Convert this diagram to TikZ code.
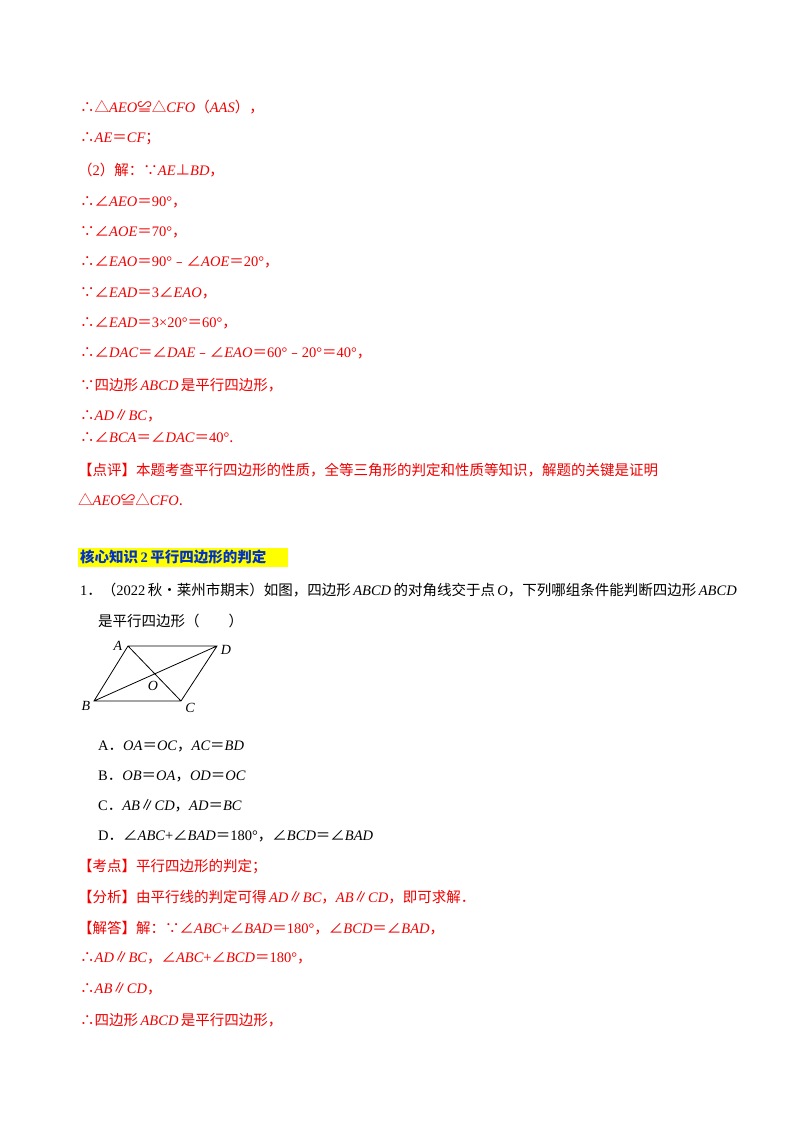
\documentclass[tikz,border=0pt]{standalone}
\usepackage{fontspec}
\setmainfont{Noto Sans CJK SC}
\newfontfamily\lt{Liberation Serif}
\newcommand\mi[1]{{\lt\itshape #1}}
\newcommand\nm[1]{{\lt #1}}
\definecolor{rd}{RGB}{240,0,0}
\definecolor{hl}{RGB}{255,255,0}
\definecolor{bl}{RGB}{0,50,200}
\begin{document}
\begin{tikzpicture}[x=1pt,y=-1pt,
 t/.style={anchor=west,inner sep=0pt,font=\fontsize{14.5}{16}\selectfont},
 r/.style={t,text=rd},
 lb/.style={inner sep=0pt,font=\lt\itshape\fontsize{14}{16}\selectfont}]
\useasboundingbox (0,0) rectangle (800,1132);
\fill[white] (0,0) rectangle (800,1132);
\node[r] (l1) at (80,107) {∴△\mi{AEO}≌△\mi{CFO}（\mi{AAS}），};
\node[r] (l2) at (80,139) {∴\mi{AE}＝\mi{CF}；};
\node[r] (l3) at (78,170) {（\nm{2}）解：∵\mi{AE}⊥\mi{BD}，};
\node[r] (l4) at (80,202) {∴∠\mi{AEO}＝\nm{90°}，};
\node[r] (l5) at (80,232) {∵∠\mi{AOE}＝\nm{70°}，};
\node[r] (l6) at (80,262) {∴∠\mi{EAO}＝\nm{90°}﹣∠\mi{AOE}＝\nm{20°}，};
\node[r] (l7) at (80,293) {∵∠\mi{EAD}＝\nm{3}∠\mi{EAO}，};
\node[r] (l8) at (80,323) {∴∠\mi{EAD}＝\nm{3×20°}＝\nm{60°}，};
\node[r] (l9) at (80,353) {∴∠\mi{DAC}＝∠\mi{DAE}﹣∠\mi{EAO}＝\nm{60°}﹣\nm{20°}＝\nm{40°}，};
\node[r] (l10) at (80,385) {∵四边形\,\mi{ABCD}\,是平行四边形，};
\node[r] (l11) at (80,416) {∴\mi{AD}∥\mi{BC}，};
\node[r] (l12) at (80,438) {∴∠\mi{BCA}＝∠\mi{DAC}＝\nm{40°}.};
\node[r,text width=652pt,align=justify] (l13) at (78,484.5) {【点评】本题考查平行四边形的性质，全等三角形的判定和性质等知识，解题的关键是证明\\[14pt]△\mi{AEO}≌△\mi{CFO}.};
\fill[hl] (78,548) rectangle (288,567);
\node[t,text=bl,font=\bfseries\fontsize{14.5}{16}\selectfont] (h) at (80,557) {核心知识\,\nm{\bfseries 2}\,平行四边形的判定};
\node[t] (q1) at (80,590) {\nm{1}．（\nm{2022}\,秋•莱州市期末）如图，四边形\,\mi{ABCD}\,的对角线交于点\,\mi{O}，下列哪组条件能判断四边形\,\mi{ABCD}};
\node[t] (q2) at (98,621) {是平行四边形（\quad\quad ）};
\coordinate (A) at (128,646); \coordinate (D) at (217,646);
\coordinate (B) at (94,701); \coordinate (C) at (181,701);
\draw[line width=0.8pt] (A)--(D)--(C)--(B)--cycle (A)--(C) (B)--(D);
\node[lb] (la) at (118,646) {A};
\node[lb] (ld) at (226,650) {D};
\node[lb] (lb) at (86,706) {B};
\node[lb] (lc) at (190,708) {C};
\node[lb] (lo) at (153,686) {O};
\node[t] (oa) at (98,746) {\nm{A}．\mi{OA}＝\mi{OC}，\mi{AC}＝\mi{BD}};
\node[t] (ob) at (98,776) {\nm{B}．\mi{OB}＝\mi{OA}，\mi{OD}＝\mi{OC}};
\node[t] (oc) at (98,806) {\nm{C}．\mi{AB}∥\mi{CD}，\mi{AD}＝\mi{BC}};
\node[t] (od) at (98,836) {\nm{D}．∠\mi{ABC}\nm{+}∠\mi{BAD}＝\nm{180°}，∠\mi{BCD}＝∠\mi{BAD}};
\node[r] (k1) at (78,867) {【考点】平行四边形的判定；};
\node[r] (k2) at (78,897) {【分析】由平行线的判定可得\,\mi{AD}∥\mi{BC}，\mi{AB}∥\mi{CD}，即可求解．};
\node[r] (k3) at (78,928) {【解答】解：∵∠\mi{ABC}\nm{+}∠\mi{BAD}＝\nm{180°}，∠\mi{BCD}＝∠\mi{BAD}，};
\node[r] (k4) at (80,958) {∴\mi{AD}∥\mi{BC}，∠\mi{ABC}\nm{+}∠\mi{BCD}＝\nm{180°}，};
\node[r] (k5) at (80,989) {∴\mi{AB}∥\mi{CD}，};
\node[r] (k6) at (80,1020) {∴四边形\,\mi{ABCD}\,是平行四边形，};
\end{tikzpicture}
\end{document}
